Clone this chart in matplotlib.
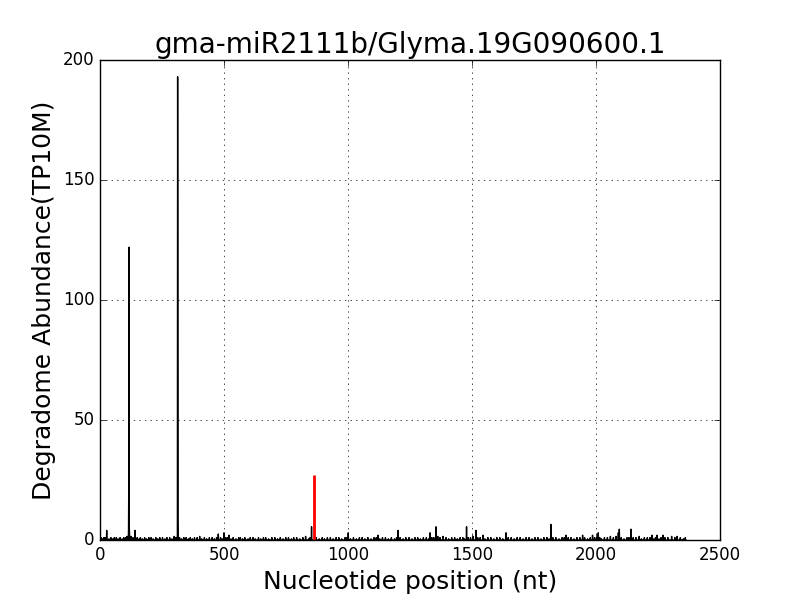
import numpy as np
import matplotlib
matplotlib.use('Agg')
import matplotlib.pyplot as plt

title = 'gma-miR2111b/Glyma.19G090600.1'
transcript_len = 2363
cleave_pos = 864
cleave_val = 27

# peaks (position in nt, abundance in TP10M)
peak_pos = [27, 115, 116, 117, 118, 119, 141, 312, 313, 314, 315,
            477, 500, 520, 853, 1001, 1121, 1202, 1331, 1355, 1478, 1516,
            1545, 1637, 1818, 1879, 1946, 1986, 2009, 2090, 2094, 2141,
            2174, 2226, 2246, 2270]
peak_val = [4, 4, 23, 122, 5, 3, 4, 2, 193, 82, 7,
            2.5, 3, 2, 5.5, 3, 2, 4, 3, 5.5, 5.5, 4,
            2, 3, 6.5, 2, 2, 2, 3, 3, 4.5, 4.5,
            1.5, 2, 2, 2]

# low background reads
low_pos = [4, 9, 15, 21, 36, 44, 52, 58, 66, 73, 81, 89, 96, 104, 109, 126,
           133, 150, 158, 163, 171, 180, 188, 197, 206, 214, 225, 233, 241,
           252, 262, 270, 281, 290, 299, 306, 321, 329, 338, 347, 356, 364,
           372, 381, 392, 402, 410, 421, 430, 441, 452, 461, 470, 486, 493,
           507, 514, 528, 537, 548, 559, 566, 575, 584, 597, 606, 617, 626,
           639, 648, 659, 668, 680, 693, 705, 716, 727, 738, 749, 760, 772,
           781, 793, 806, 818, 829, 841, 847, 872, 884, 896, 905, 917, 929,
           940, 952, 963, 975, 988, 996, 1010, 1022, 1034, 1046, 1057, 1068,
           1080, 1093, 1105, 1114, 1128, 1139, 1151, 1163, 1175, 1188, 1196,
           1210, 1222, 1233, 1246, 1258, 1270, 1281, 1292, 1304, 1316, 1325,
           1338, 1346, 1362, 1371, 1383, 1395, 1406, 1418, 1430, 1441, 1452,
           1463, 1470, 1485, 1494, 1505, 1523, 1533, 1552, 1564, 1576, 1588,
           1600, 1612, 1624, 1646, 1658, 1670, 1682, 1694, 1706, 1718, 1730,
           1742, 1754, 1766, 1778, 1790, 1802, 1811, 1826, 1838, 1851, 1863,
           1872, 1888, 1899, 1911, 1923, 1935, 1954, 1966, 1977, 1994, 2002,
           2015, 2022, 2034, 2046, 2058, 2070, 2081, 2102, 2113, 2125, 2133,
           2150, 2161, 2183, 2195, 2207, 2218, 2233, 2240, 2254, 2262, 2278,
           2290, 2305, 2318, 2327, 2340, 2352, 2360]
low_val = [1, 0.5, 1, 1, 0.5, 1, 0.5, 1, 1, 0.5, 1, 0.5, 1, 1, 1.5, 1.5,
           1, 1, 0.5, 1, 0.5, 1, 0.5, 1, 1, 0.5, 1, 0.5, 1,
           1, 0.5, 1, 1, 0.5, 1.5, 1, 1, 0.5, 1, 1, 0.5, 1,
           0.5, 1, 1, 1.5, 0.5, 1, 0.5, 1, 1, 0.5, 1, 1, 0.5,
           1, 1, 0.5, 1, 0.5, 1, 1, 0.5, 1, 0.5, 1, 1, 0.5,
           1, 0.5, 1, 1, 0.5, 1, 1, 0.5, 1, 0.5, 1, 1, 0.5,
           1, 1, 0.5, 1, 1.5, 0.5, 1, 1, 0.5, 1, 0.5, 1, 1,
           0.5, 1, 1, 0.5, 1, 1, 0.5, 1, 0.5, 1, 1, 0.5,
           1, 0.5, 1, 1, 0.5, 1, 1, 0.5, 1, 0.5, 1, 1, 0.5,
           1, 1, 0.5, 1, 1, 0.5, 1, 1, 0.5, 1, 1, 1.5,
           1, 1.5, 1, 0.5, 1, 1, 0.5, 1, 1, 0.5, 1,
           1, 1.5, 1, 1, 0.5, 1, 1, 0.5, 1, 1, 0.5, 1,
           1, 0.5, 1, 1, 0.5, 1, 1, 0.5, 1, 1, 0.5, 1,
           1, 0.5, 1, 1, 0.5, 1, 1, 1, 1, 0.5, 1,
           1, 1, 0.5, 1, 1, 1, 1, 0.5, 1, 1, 1.5,
           1, 1.5, 1, 0.5, 1, 1, 1, 1, 0.5, 1, 1,
           1, 0.5, 1, 0.5, 1, 1, 1, 1.5, 1, 1.5, 1,
           0.5, 1]

abundance = np.zeros(transcript_len)
abundance[low_pos] = low_val
abundance[peak_pos] = peak_val
positions = np.arange(transcript_len)

plt.style.use('classic')
fig = plt.figure(figsize=(8, 6), dpi=100)
ax = fig.add_subplot(111)
ax.plot(positions, abundance, color='k', linewidth=1.0)
ax.vlines(cleave_pos, 0, cleave_val, color='red', linewidth=2)

ax.set_xlim(0, 2500)
ax.set_ylim(0, 200)
ax.grid(True)
ax.set_title(title, fontsize=20)
ax.set_xlabel('Nucleotide position (nt)', fontsize=18)
ax.set_ylabel('Degradome Abundance(TP10M)', fontsize=18)

fig.savefig('out.png', dpi=100)
